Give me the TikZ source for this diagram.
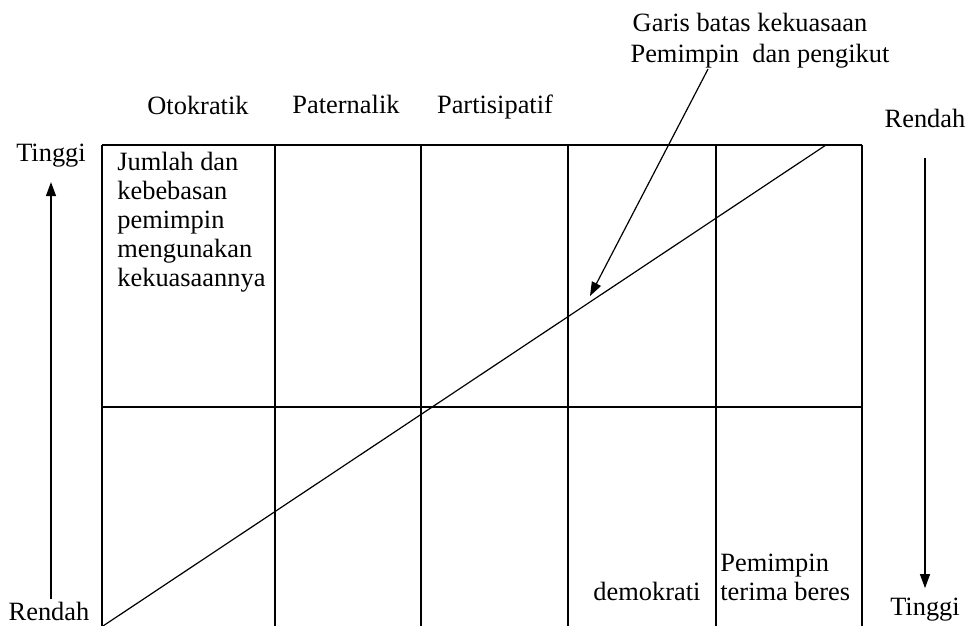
\documentclass[tikz,border=0pt]{standalone}
\usepackage{fontspec}
\setmainfont{Liberation Serif}
\usetikzlibrary{arrows.meta,positioning,calc}

\begin{document}
\begin{tikzpicture}[x=0.5pt,y=-0.5pt,
  every node/.style={font=\fontsize{13.2}{14.5}\selectfont, inner sep=0pt},
  lbl/.style={anchor=base},
  axis/.style={-{Triangle[length=7pt,width=5pt]}, line width=0.6pt},
  gridline/.style={line width=0.7pt}]
  \useasboundingbox (0,0) rectangle (969,626);
  % grid
  \foreach \x in {102,275,421,568,716,862}{\draw[gridline] (\x,145) -- (\x,626);}
  \draw[gridline] (102,145) -- (862,145);
  \draw[gridline] (102,407) -- (862,407);
  % column heads
  \node[lbl] (oto) at (198,115) {Otokratik};
  \node[lbl] (pat) at (346,113) {Paternalik};
  \node[lbl] (par) at (495,113) {Partisipatif};
  % boundary line
  \coordinate (dl) at (103,626);
  \coordinate (dr) at (826,145);
  \draw[line width=0.6pt] (dl) -- (dr);
  \node[lbl] (garis1) at (750,32) {Garis batas kekuasaan};
  \node[lbl] (garis2) at (760,63) {Pemimpin\ \ dan pengikut};
  \coordinate (tip) at (590,296);
  \draw[axis] ([xshift=-26pt]garis2.south) -- (tip);
  % cell texts
  \node[anchor=north west, align=left] (jumlah) at (117,152)
    {Jumlah dan\\kebebasan\\pemimpin\\mengunakan\\kekuasaannya};
  \node[lbl] (demo) at (647,600) {demokrati};
  \node[anchor=north west, align=left] (beres) at (720,554) {Pemimpin\\terima beres};
  % axes
  \node[lbl] (tinggiL) at (51,162) {Tinggi};
  \node[lbl] (rendahL) at (49,620) {Rendah};
  \draw[axis] (tinggiL.south |- rendahL.north) ++(0,-2) -- ([yshift=-7pt]tinggiL.south);
  \node[lbl] (rendahR) at (925,127) {Rendah};
  \node[lbl] (tinggiR) at (925,615) {Tinggi};
  \draw[axis] ([yshift=-15pt]rendahR.south) -- ([yshift=4.5pt]tinggiR.north);
\end{tikzpicture}
\end{document}
